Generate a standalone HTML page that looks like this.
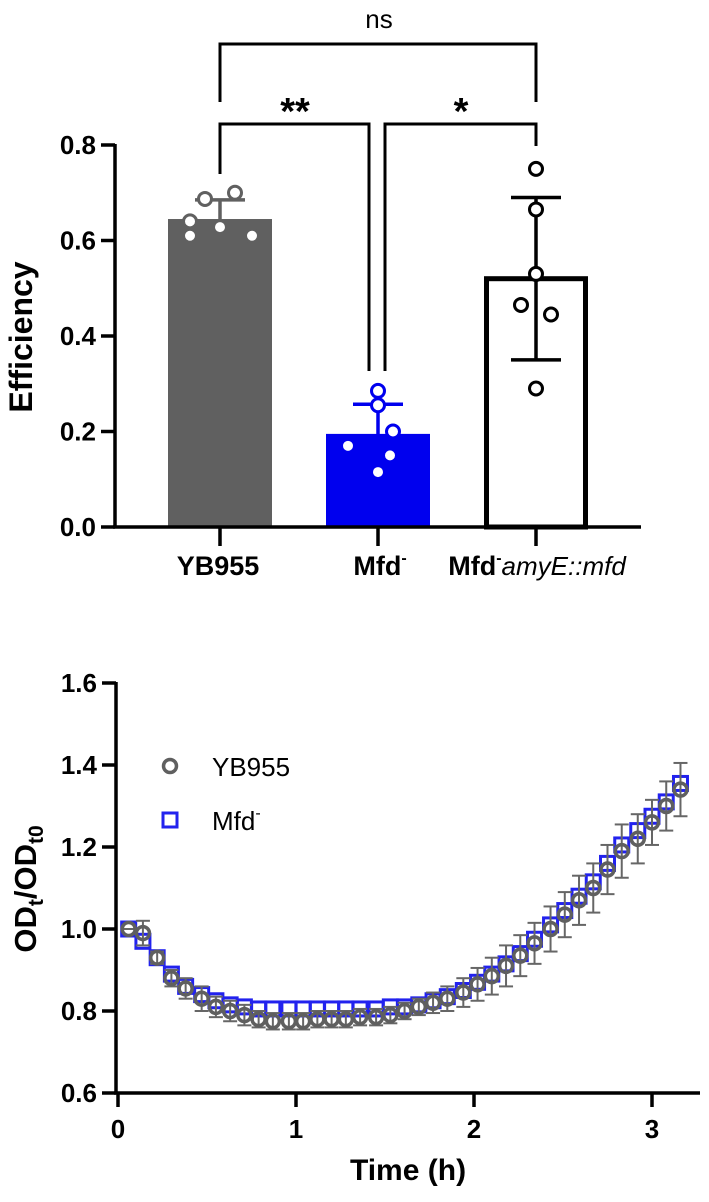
<!DOCTYPE html>
<html><head><meta charset="utf-8"><style>
body{margin:0;background:#fff}
svg text{font-family:"Liberation Sans",Arial,sans-serif}
</style></head><body>
<svg id="svg" width="709" height="1197" xmlns="http://www.w3.org/2000/svg">
<g id="topchart"></g>
<g id="botchart"></g>
</svg>
<script>
// ---------- top chart data ----------
const barCats = ["YB955","Mfd-","Mfd-amyE::mfd"];
const barMeans = [0.645, 0.195, 0.52];
const barSD = [0.04, 0.062, 0.17];
const ptsYB = [0.64, 0.61, 0.628, 0.687, 0.70, 0.61];
const ptsMfd = [0.285, 0.255, 0.2, 0.17, 0.15, 0.115];
const ptsComp = [0.75, 0.665, 0.53, 0.465, 0.445, 0.29];
const effTicks = [0.0, 0.2, 0.4, 0.6, 0.8];
// ---------- bottom chart data ----------
const times = [0.06,0.14,0.22,0.30,0.38,0.47,0.55,0.63,0.71,0.79,0.87,0.96,1.04,1.12,1.20,1.28,1.36,1.45,1.53,1.61,1.69,1.77,1.85,1.94,2.02,2.10,2.18,2.26,2.34,2.43,2.51,2.59,2.67,2.75,2.83,2.92,3.00,3.08,3.16];
const ybMean = [1.00,0.99,0.93,0.88,0.855,0.83,0.81,0.80,0.79,0.78,0.775,0.775,0.775,0.78,0.78,0.78,0.785,0.785,0.79,0.80,0.81,0.82,0.83,0.845,0.865,0.885,0.91,0.935,0.965,1.00,1.035,1.07,1.10,1.145,1.19,1.22,1.26,1.30,1.34];
const ybErr = [0.0,0.03,0.015,0.02,0.025,0.03,0.025,0.025,0.025,0.02,0.02,0.02,0.02,0.02,0.02,0.02,0.02,0.02,0.02,0.02,0.02,0.025,0.03,0.035,0.04,0.045,0.05,0.05,0.05,0.055,0.055,0.06,0.06,0.06,0.065,0.06,0.055,0.06,0.065];
const mfdMean = [1.00,0.97,0.93,0.89,0.86,0.84,0.825,0.815,0.81,0.805,0.805,0.805,0.805,0.805,0.805,0.805,0.805,0.805,0.81,0.81,0.815,0.825,0.835,0.85,0.87,0.89,0.915,0.94,0.975,1.01,1.045,1.08,1.115,1.16,1.205,1.24,1.275,1.31,1.355];
const odTicks = [0.6,0.8,1.0,1.2,1.4,1.6];
const timeTicks = [0,1,2,3];

const SVGNS="http://www.w3.org/2000/svg";
function mk(parent, tag, attrs){const e=document.createElementNS(SVGNS,tag);for(const k in attrs)e.setAttribute(k,attrs[k]);parent.appendChild(e);return e;}
function addT(parent,txt,attrs){const t=mk(parent,'tspan',attrs||{});t.textContent=txt;return t;}

// ===== TOP =====
const topG=document.getElementById('topchart');
const yE=v=>527-(v/0.8)*382;
const barX=[220,378,536];
const barW=104;
const barFill=["#606060","#0000ee","#ffffff"];
const ptCol=["#606060","#0000ee","#000"];
const errCol=["#606060","#0000ee","#000"];
const ptSets=[ptsYB,ptsMfd,ptsComp];
const ptOff=[[-30,-30,0,-15,15,32],[0,0,15,-30,12,0],[0,0,0,-15,15,0]];
barCats.forEach((c,i)=>{
  const x=barX[i];
  let r;
  if(i===2){ r=mk(topG,'rect',{x:x-barW/2+2.5,y:yE(barMeans[i]),width:barW-5,height:yE(0)-yE(barMeans[i]),fill:barFill[i],stroke:'#000','stroke-width':5}); }
  else { r=mk(topG,'rect',{x:x-barW/2,y:yE(barMeans[i]),width:barW,height:yE(0)-yE(barMeans[i]),fill:barFill[i]}); }
  
  
  const hi=yE(barMeans[i]+barSD[i]), lo=yE(barMeans[i]-barSD[i]);
  const eg=mk(topG,'g',{stroke:errCol[i],'stroke-width':3.5,fill:'none'});
  
  
  mk(eg,'line',{x1:x,y1:hi,x2:x,y2:lo});
  mk(eg,'line',{x1:x-25,y1:hi,x2:x+25,y2:hi});
  mk(eg,'line',{x1:x-25,y1:lo,x2:x+25,y2:lo});
  ptSets[i].forEach((v,j)=>{
    const c=mk(topG,'circle',{cx:x+ptOff[i][j],cy:yE(v),r:6.5,fill:'#fff',stroke:ptCol[i],'stroke-width':3});
    
    
  });
});
const ax=mk(topG,'g',{stroke:'#000','stroke-width':3.5,fill:'none'});


mk(ax,'line',{x1:115,y1:yE(0.8)-1,x2:115,y2:yE(0)+1.5});
mk(ax,'line',{x1:113,y1:yE(0),x2:641,y2:yE(0)});
effTicks.forEach(t=>{
  mk(ax,'line',{x1:101,y1:yE(t),x2:115,y2:yE(t)});
  const tx=mk(topG,'text',{x:96,y:yE(t)+9,'text-anchor':'end','font-size':26,'font-weight':'bold'});
  tx.textContent=t.toFixed(1);
  
  
});
barX.forEach(x=>mk(ax,'line',{x1:x,y1:yE(0),x2:x,y2:546}));
let xl=mk(topG,'text',{x:218,y:575,'text-anchor':'middle','font-size':27,'font-weight':'bold'});
xl.textContent="YB955";


xl=mk(topG,'text',{x:380,y:575,'text-anchor':'middle','font-size':27,'font-weight':'bold'});
addT(xl,'Mfd');addT(xl,'-',{'font-size':16,dy:-12});


xl=mk(topG,'text',{x:537,y:575,'text-anchor':'middle','font-size':27,'font-weight':'bold'});
addT(xl,'Mfd');addT(xl,'-',{'font-size':16,dy:-12});addT(xl,'amyE::mfd',{dy:12,'font-weight':'normal','font-style':'italic','font-size':26});


const yt=mk(topG,'text',{x:0,y:0,'text-anchor':'middle','font-size':32,'font-weight':'bold',transform:'translate(32,337) rotate(-90)'});
yt.textContent="Efficiency";


const br=mk(topG,'g',{stroke:'#000','stroke-width':3,fill:'none'});


mk(br,'polyline',{points:'220,102 220,44 536,44 536,102'});
mk(br,'polyline',{points:'220,174 220,124 369,124 369,371'});
mk(br,'polyline',{points:'385,371 385,124 536,124 536,146'});
let st=mk(topG,'text',{x:379,y:28,'text-anchor':'middle','font-size':26});st.textContent='ns';


st=mk(topG,'text',{x:295,y:124,'text-anchor':'middle','font-size':38,'font-weight':'bold'});st.textContent='**';


st=mk(topG,'text',{x:461,y:124,'text-anchor':'middle','font-size':38,'font-weight':'bold'});st.textContent='*';



// ===== BOTTOM =====
const botG=document.getElementById('botchart');
const xT=t=>118+t*178;
const yO=v=>1093-(v-0.6)/0.2*82;
times.forEach((t,i)=>{
  const s=mk(botG,'rect',{x:xT(t)-7,y:yO(mfdMean[i])-7,width:14,height:14,fill:'none',stroke:'#2222ee','stroke-width':3});
  
  
});
times.forEach((t,i)=>{
  const x=xT(t),hi=yO(ybMean[i]+ybErr[i]),lo=yO(ybMean[i]-ybErr[i]);
  const g=mk(botG,'g',{stroke:'#666','stroke-width':2,fill:'none'});
  
  
  mk(g,'line',{x1:x,y1:hi,x2:x,y2:lo});
  mk(g,'line',{x1:x-7,y1:hi,x2:x+7,y2:hi});
  mk(g,'line',{x1:x-7,y1:lo,x2:x+7,y2:lo});
  const c=mk(botG,'circle',{cx:x,cy:yO(ybMean[i]),r:6.5,fill:'none',stroke:'#5f5f5f','stroke-width':3.5});
  
  
});
const bx=mk(botG,'g',{stroke:'#000','stroke-width':3.5,fill:'none'});


mk(bx,'line',{x1:116,y1:yO(1.6)-1,x2:116,y2:yO(0.6)+1.5});
mk(bx,'line',{x1:114,y1:yO(0.6),x2:700,y2:yO(0.6)});
odTicks.forEach(v=>{
  mk(bx,'line',{x1:102,y1:yO(v),x2:116,y2:yO(v)});
  const tx=mk(botG,'text',{x:97,y:yO(v)+9,'text-anchor':'end','font-size':26,'font-weight':'bold'});
  tx.textContent=v.toFixed(1);
  
  
});
timeTicks.forEach(t=>{
  mk(bx,'line',{x1:xT(t),y1:yO(0.6),x2:xT(t),y2:yO(0.6)+14});
  const tx=mk(botG,'text',{x:xT(t),y:1138,'text-anchor':'middle','font-size':26,'font-weight':'bold'});
  tx.textContent=String(t);
  
  
});
let tt=mk(botG,'text',{x:408,y:1180,'text-anchor':'middle','font-size':30,'font-weight':'bold'});
tt.textContent='Time (h)';


tt=mk(botG,'text',{x:0,y:0,'text-anchor':'middle','font-size':31,'font-weight':'bold',transform:'translate(36,889) rotate(-90)'});
addT(tt,'OD');addT(tt,'t',{'font-size':21,dy:7});addT(tt,'/OD',{dy:-7});addT(tt,'t0',{'font-size':21,dy:7});


const lg=mk(botG,'g',{});


mk(lg,'circle',{cx:170,cy:766,r:6.5,fill:'none',stroke:'#5f5f5f','stroke-width':3.5});
mk(lg,'rect',{x:163,y:813,width:14,height:14,fill:'none',stroke:'#2222ee','stroke-width':3});
let lt=mk(lg,'text',{x:212,y:776,'font-size':26});lt.textContent='YB955';
lt=mk(lg,'text',{x:212,y:830,'font-size':26});addT(lt,'Mfd');addT(lt,'-',{'font-size':16,dy:-12});
</script>
</body></html>
